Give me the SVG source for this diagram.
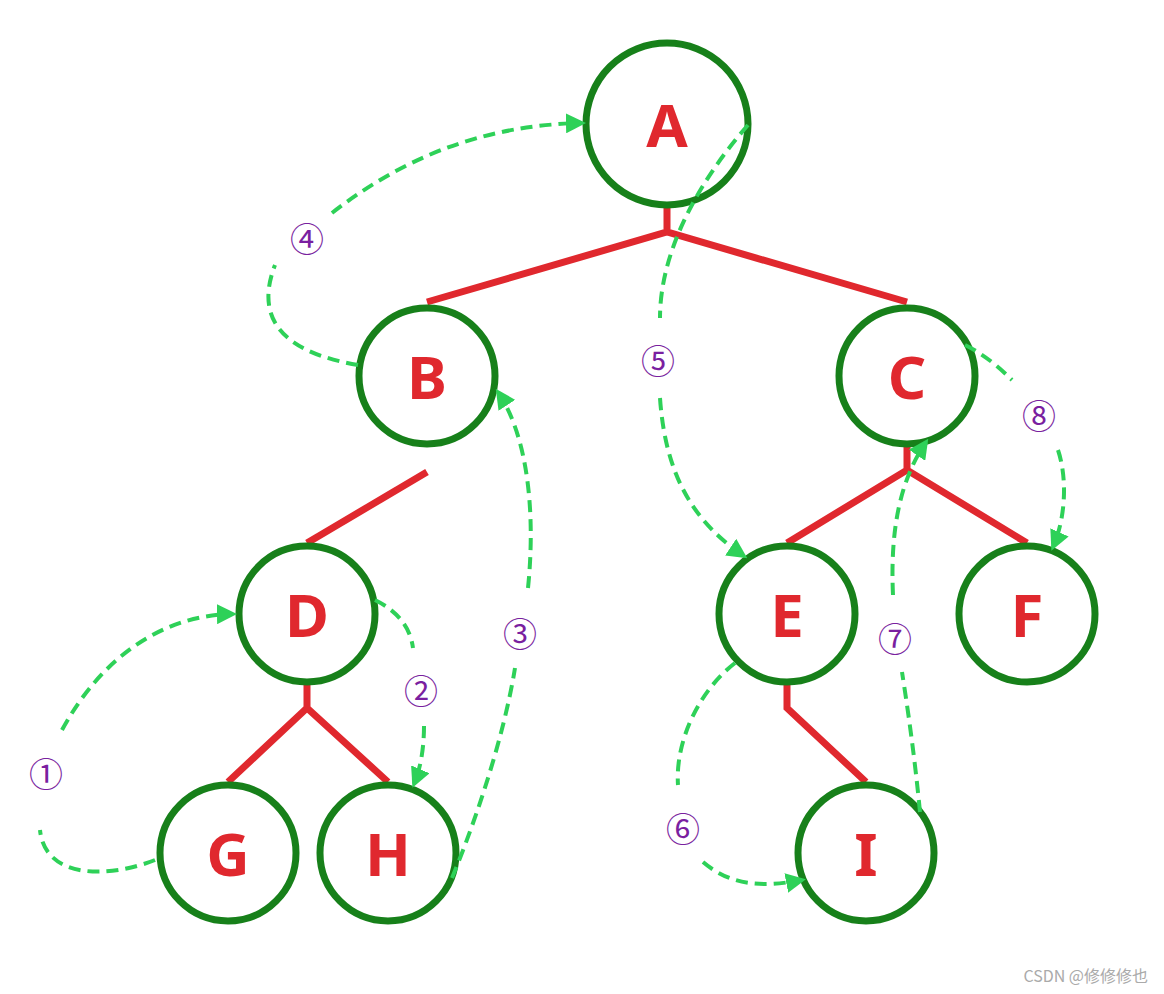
<svg xmlns="http://www.w3.org/2000/svg" width="1164" height="994" viewBox="0 0 1164 994">
<style>
.n circle{fill:#fff;stroke:#17801a;stroke-width:7}
.n text{font-family:"Noto Sans","DejaVu Sans",sans-serif;font-weight:bold;font-size:60px;fill:#e0282e;text-anchor:middle}
.e{stroke:#e0282e;stroke-width:7;fill:none}
.d{stroke:#2ed158;stroke-width:4;stroke-dasharray:12 7;fill:none}
.l{font-family:"Noto Sans CJK SC","DejaVu Sans",sans-serif;font-size:34px;fill:#7a1fa0;text-anchor:middle}
</style>
<defs><marker id="ar" viewBox="0 0 10 10" refX="8" refY="5" markerWidth="5" markerHeight="5" orient="auto"><path d="M0,0L10,5L0,10z" fill="#2ed158"/></marker></defs>
<g id="edges">
<path class="e" d="M667,205V232M427,302L667,232L907,302"/>
<path class="e" d="M427,472L307,543"/>
<path class="e" d="M907,445V470M787,543L907,470L1027,543"/>
<path class="e" d="M307,683V708M228,782L307,708L388,782"/>
<path class="e" d="M787,683V708L866,782"/>
</g>
<g id="nA" class="n"><circle cx="667" cy="124" r="81"/><text x="667" y="147">A</text></g>
<g id="nB" class="n"><circle cx="427" cy="376" r="68"/><text x="427" y="399">B</text></g>
<g id="nC" class="n"><circle cx="907" cy="376" r="68"/><text x="907" y="399">C</text></g>
<g id="nD" class="n"><circle cx="307" cy="614" r="68"/><text x="307" y="637">D</text></g>
<g id="nE" class="n"><circle cx="787" cy="614" r="68"/><text x="787" y="637">E</text></g>
<g id="nF" class="n"><circle cx="1027" cy="614" r="68"/><text x="1027" y="637">F</text></g>
<g id="nG" class="n"><circle cx="228" cy="853" r="68"/><text x="228" y="876">G</text></g>
<g id="nH" class="n"><circle cx="388" cy="853" r="68"/><text x="388" y="876">H</text></g>
<g id="nI" class="n"><circle cx="866" cy="853" r="68"/><text x="866" y="876">I</text></g>
<g id="connectors">
<path class="d" d="M155,860C110,878 45,880 40,830M62,730C100,660 160,615 233,614" marker-end="url(#ar)"/>
<path class="d" d="M375,600C395,610 410,625 413,648M424,726C424,750 420,770 414,784" marker-end="url(#ar)"/>
<path class="d" d="M452,878C480,810 505,730 515,668M528,588C535,520 530,440 498,392" marker-end="url(#ar)"/>
<path class="d" d="M358,365C300,355 250,330 275,265M332,213C400,160 480,125 582,123" marker-end="url(#ar)"/>
<path class="d" d="M748,125C700,180 660,250 660,318M660,398C665,470 690,520 744,556" marker-end="url(#ar)"/>
<path class="d" d="M735,663C700,690 675,740 678,785M703,862C730,885 760,888 802,880" marker-end="url(#ar)"/>
<path class="d" d="M920,812C915,760 908,710 902,672M893,595C890,530 900,480 926,442" marker-end="url(#ar)"/>
<path class="d" d="M965,345C985,355 1000,368 1012,380M1058,450C1068,480 1065,520 1053,547" marker-end="url(#ar)"/>
</g>
<g id="labels">
<text class="l" x="46" y="787">①</text>
<text class="l" x="421" y="704">②</text>
<text class="l" x="520" y="647">③</text>
<text class="l" x="307" y="252">④</text>
<text class="l" x="658" y="374">⑤</text>
<text class="l" x="683" y="842">⑥</text>
<text class="l" x="895" y="652">⑦</text>
<text class="l" x="1039" y="429">⑧</text>
</g>
<text x="1148" y="982" font-family="Noto Sans CJK SC, sans-serif" font-size="16" fill="#aaa" text-anchor="end">CSDN @修修修也</text>
</svg>
